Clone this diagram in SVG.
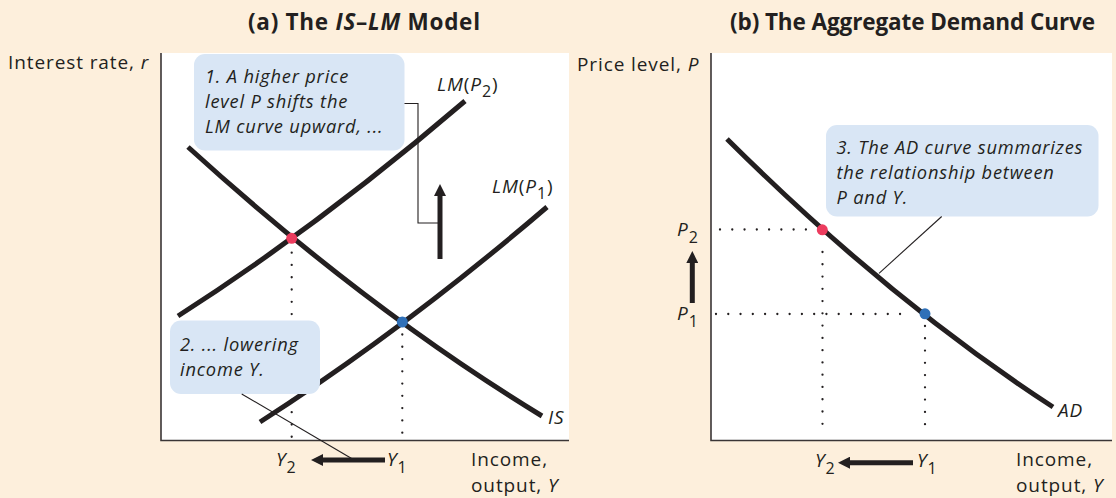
<svg xmlns="http://www.w3.org/2000/svg" width="1116" height="498" viewBox="0 0 1116 498">
<defs>
<style>
.bg{fill:#FDEFDC}
.panel{fill:#FFFFFF}
.axis{stroke:#3a3536;stroke-width:1.6;fill:none}
.curve{stroke:#231F20;stroke-width:5;fill:none}
.dots{stroke:#231F20;stroke-width:2.3;stroke-linecap:round;stroke-dasharray:0 12.27;fill:none}
.lead{stroke:#231F20;stroke-width:1.1;fill:none}
.shaft{stroke:#231F20;stroke-width:5;fill:none}
.callout{fill:#D9E6F5}
.t{font-family:"Open Sans","Liberation Sans",sans-serif;fill:#231F20}
.title{font-size:22.5px;font-weight:bold}
.lab{font-size:19px;letter-spacing:0.9px}
.ctext{font-size:18.3px;font-style:italic;letter-spacing:0.8px}
.it{font-style:italic}
.sub{font-size:16px}
.red{fill:#EC3C5E}
.blue{fill:#2F70B8}
</style>
<marker id="head" viewBox="0 0 12 12" refX="1" refY="6" markerWidth="12" markerHeight="12" markerUnits="userSpaceOnUse" orient="auto">
<path d="M0,0 L12,6 L0,12 Z" fill="#231F20"/>
</marker>
</defs>
<rect class="bg" x="0" y="0" width="1116" height="498"/>
<rect class="panel" x="161" y="53" width="408" height="387"/>
<rect class="panel" x="711" y="53" width="401" height="387"/>
<text class="t title" x="248" y="30" textLength="232" lengthAdjust="spacing">(a) The <tspan class="it">IS</tspan>–<tspan class="it">LM</tspan> Model</text>
<text class="t title" x="730" y="30" textLength="365" lengthAdjust="spacing">(b) The Aggregate Demand Curve</text>
<g id="axes-a">
<path class="axis" d="M161,53 V440.5 H569"/>
<text class="t lab" x="8" y="69">Interest rate, <tspan class="it">r</tspan></text>
<text class="t lab" x="471" y="466">Income,</text>
<text class="t lab" x="471" y="492">output, <tspan class="it">Y</tspan></text>
</g>
<g id="axes-b">
<path class="axis" d="M711,53 V440.5 H1112"/>
<text class="t lab" x="577" y="71">Price level, <tspan class="it">P</tspan></text>
<text class="t lab" x="1016" y="466">Income,</text>
<text class="t lab" x="1016" y="492">output, <tspan class="it">Y</tspan></text>
</g>
<g id="curve-IS">
<path class="curve" d="M188,147 Q365,308 542,416"/>
<text class="t lab it" x="548" y="424">IS</text>
</g>
<g id="curve-LM2">
<path class="curve" d="M178,316 Q321.5,224 465,101"/>
<text class="t lab" x="437" y="91"><tspan class="it">LM</tspan>(<tspan class="it">P</tspan><tspan class="sub" dy="6">2</tspan><tspan dy="-6">)</tspan></text>
</g>
<g id="curve-LM1">
<path class="curve" d="M260,422 Q403.5,330 547,207"/>
<text class="t lab" x="492" y="193"><tspan class="it">LM</tspan>(<tspan class="it">P</tspan><tspan class="sub" dy="6">1</tspan><tspan dy="-6">)</tspan></text>
</g>
<g id="curve-AD">
<path class="curve" d="M727,139 Q890,301 1053,407"/>
<text class="t lab it" x="1058" y="417">AD</text>
</g>
<g id="guides">
<path class="dots" d="M291.7,252.7 V437"/>
<path class="dots" d="M402.3,334.5 V437"/>
<path class="dots" d="M720,229.5 H812"/>
<path class="dots" d="M822.5,252 V424"/>
<path class="dots" d="M716,314 H912"/>
<path class="dots" d="M925,326 V435"/>
</g>
<g id="points">
<circle class="red" cx="291.7" cy="238.3" r="5.5"/>
<circle class="blue" cx="402.3" cy="322" r="5.5"/>
<circle class="red" cx="822.3" cy="229.8" r="5.5"/>
<circle class="blue" cx="925" cy="313.8" r="5.5"/>
</g>
<g id="callout-1">
<rect class="callout" x="194" y="54" width="210.5" height="96.5" rx="11"/>
<text class="t ctext" x="205" y="83">1. A higher price</text>
<text class="t ctext" x="205" y="108">level P shifts the</text>
<text class="t ctext" x="205" y="133">LM curve upward, ...</text>
</g>
<g id="callout-2">
<rect class="callout" x="170" y="320.5" width="150" height="73.5" rx="11"/>
<text class="t ctext" x="180" y="351">2. ... lowering</text>
<text class="t ctext" x="180" y="376">income Y.</text>
</g>
<g id="callout-3">
<rect class="callout" x="826" y="125" width="272.5" height="91.5" rx="11"/>
<text class="t ctext" x="836.5" y="153.5">3. The AD curve summarizes</text>
<text class="t ctext" x="836.5" y="179">the relationship between</text>
<text class="t ctext" x="836.5" y="203.5">P and Y.</text>
</g>
<g id="tick-labels">
<text class="t lab" x="276" y="466"><tspan class="it">Y</tspan><tspan class="sub" dy="7">2</tspan></text>
<text class="t lab" x="387" y="466"><tspan class="it">Y</tspan><tspan class="sub" dy="7">1</tspan></text>
<text class="t lab" x="815" y="467"><tspan class="it">Y</tspan><tspan class="sub" dy="7">2</tspan></text>
<text class="t lab" x="917" y="467"><tspan class="it">Y</tspan><tspan class="sub" dy="7">1</tspan></text>
<text class="t lab" x="677" y="236"><tspan class="it">P</tspan><tspan class="sub" dy="7">2</tspan></text>
<text class="t lab" x="677" y="320"><tspan class="it">P</tspan><tspan class="sub" dy="7">1</tspan></text>
</g>
<g id="connectors">
<path class="lead" d="M404.5,103.5 H418 V223 H438"/>
<path class="lead" d="M241.7,394 L353.3,459.5"/>
<path class="lead" d="M941.7,216.5 L879,273.3"/>
<path class="shaft" d="M440,259 V195" marker-end="url(#head)"/>
<path class="shaft" d="M692.3,303 V262" marker-end="url(#head)"/>
<path class="shaft" d="M385,460 H322" marker-end="url(#head)"/>
<path class="shaft" d="M913,462.7 H849" marker-end="url(#head)"/>
</g>
</svg>
